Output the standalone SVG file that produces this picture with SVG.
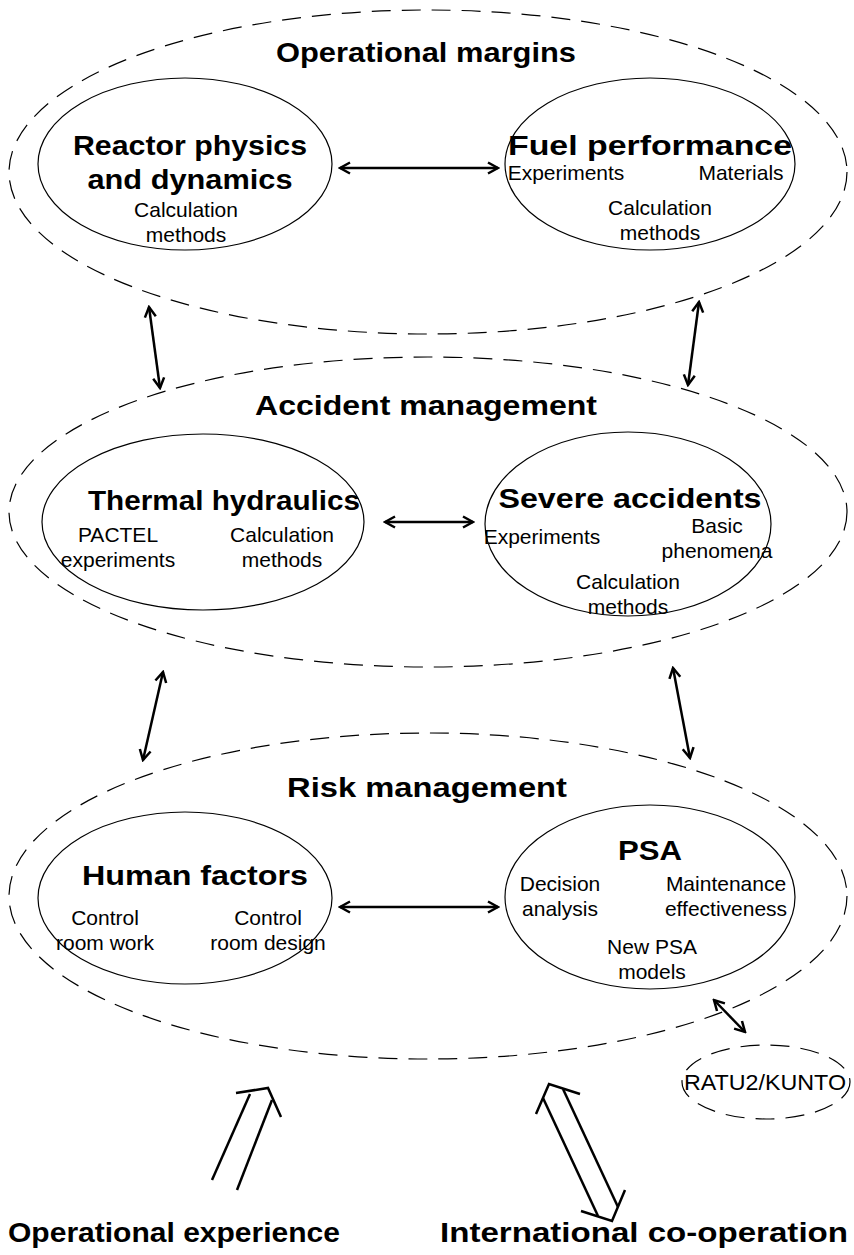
<svg xmlns="http://www.w3.org/2000/svg" width="854" height="1255" viewBox="0 0 854 1255">
<style>
.outer{fill:none;stroke:#000;stroke-width:1.2;stroke-dasharray:19 11}
.inner{fill:#fff;stroke:#000;stroke-width:1.2}
.t{font-family:"Liberation Sans",Arial,sans-serif;font-size:21px;text-anchor:middle;fill:#000}
.b{font-family:"Liberation Sans",Arial,sans-serif;font-size:28px;font-weight:bold;text-anchor:middle;fill:#000}
.c{fill:none;stroke:#000;stroke-width:2.5;marker-start:url(#ah);marker-end:url(#ah)}
.h{fill:none;stroke:#000;stroke-width:2.5;stroke-linecap:butt;stroke-linejoin:miter}
</style>
<defs>
<marker id="ah" viewBox="-12 -8 14 16" refX="0" refY="0" markerWidth="14" markerHeight="16" markerUnits="userSpaceOnUse" orient="auto-start-reverse">
<path d="M-10,-5.5 L0,0 L-10,5.5" fill="none" stroke="#000" stroke-width="2.5"/>
</marker>
</defs>
<g id="operational-margins">
<ellipse class="outer" cx="428" cy="172" rx="419" ry="162"/>
<text class="b" x="426" y="62" textLength="300" lengthAdjust="spacingAndGlyphs">Operational margins</text>
</g>
<g id="reactor-physics">
<ellipse class="inner" cx="185" cy="164" rx="147" ry="86"/>
<text class="b" x="190" y="155" textLength="234" lengthAdjust="spacingAndGlyphs">Reactor physics</text>
<text class="b" x="190" y="189" textLength="205" lengthAdjust="spacingAndGlyphs">and dynamics</text>
<text class="t" x="186" y="217">Calculation</text>
<text class="t" x="186" y="242">methods</text>
</g>
<g id="fuel-performance">
<ellipse class="inner" cx="650" cy="164" rx="145" ry="86"/>
<text class="b" x="650" y="155" textLength="284" lengthAdjust="spacingAndGlyphs">Fuel performance</text>
<text class="t" x="566" y="180">Experiments</text>
<text class="t" x="741" y="180">Materials</text>
<text class="t" x="660" y="215">Calculation</text>
<text class="t" x="660" y="240">methods</text>
</g>
<g id="accident-management">
<ellipse class="outer" cx="428" cy="512" rx="419" ry="155"/>
<text class="b" x="426" y="415" textLength="342" lengthAdjust="spacingAndGlyphs">Accident management</text>
</g>
<g id="thermal-hydraulics">
<ellipse class="inner" cx="203" cy="522" rx="161" ry="88"/>
<text class="b" x="224" y="510" textLength="272" lengthAdjust="spacingAndGlyphs">Thermal hydraulics</text>
<text class="t" x="118" y="542">PACTEL</text>
<text class="t" x="118" y="567">experiments</text>
<text class="t" x="282" y="542">Calculation</text>
<text class="t" x="282" y="567">methods</text>
</g>
<g id="severe-accidents">
<ellipse class="inner" cx="628" cy="524" rx="143" ry="92"/>
<text class="b" x="630" y="508" textLength="263" lengthAdjust="spacingAndGlyphs">Severe accidents</text>
<text class="t" x="542" y="544">Experiments</text>
<text class="t" x="717" y="533">Basic</text>
<text class="t" x="717" y="558">phenomena</text>
<text class="t" x="628" y="589">Calculation</text>
<text class="t" x="628" y="614">methods</text>
</g>
<g id="risk-management">
<ellipse class="outer" cx="428" cy="896" rx="419" ry="163"/>
<text class="b" x="427" y="797" textLength="280" lengthAdjust="spacingAndGlyphs">Risk management</text>
</g>
<g id="human-factors">
<ellipse class="inner" cx="185" cy="898" rx="147" ry="86"/>
<text class="b" x="195" y="885" textLength="226" lengthAdjust="spacingAndGlyphs">Human factors</text>
<text class="t" x="105" y="925">Control</text>
<text class="t" x="105" y="950">room work</text>
<text class="t" x="268" y="925">Control</text>
<text class="t" x="268" y="950">room design</text>
</g>
<g id="psa">
<ellipse class="inner" cx="650" cy="897" rx="145" ry="92"/>
<text class="b" x="650" y="860" textLength="64" lengthAdjust="spacingAndGlyphs">PSA</text>
<text class="t" x="560" y="891">Decision</text>
<text class="t" x="560" y="916">analysis</text>
<text class="t" x="726" y="891">Maintenance</text>
<text class="t" x="726" y="916">effectiveness</text>
<text class="t" x="652" y="954">New PSA</text>
<text class="t" x="652" y="979">models</text>
</g>
<g id="ratu2-kunto">
<ellipse class="outer" cx="766" cy="1082" rx="84" ry="37"/>
<text class="t" x="765" y="1090" style="font-size:22px" textLength="162" lengthAdjust="spacingAndGlyphs">RATU2/KUNTO</text>
</g>
<g id="operational-experience">
<text class="b" x="174" y="1242" textLength="332" lengthAdjust="spacingAndGlyphs">Operational experience</text>
</g>
<g id="international-cooperation">
<text class="b" x="644" y="1242" textLength="408" lengthAdjust="spacingAndGlyphs">International co-operation</text>
</g>
<g id="connectors">
<line class="c" x1="340" y1="168" x2="498" y2="168"/>
<line class="c" x1="149" y1="307" x2="160" y2="388"/>
<line class="c" x1="699" y1="302" x2="688" y2="385"/>
<line class="c" x1="385" y1="522" x2="473" y2="522"/>
<line class="c" x1="163" y1="672" x2="143" y2="760"/>
<line class="c" x1="673" y1="668" x2="690" y2="758"/>
<line class="c" x1="340" y1="907" x2="498" y2="907"/>
<line class="c" x1="714" y1="1000" x2="745" y2="1032"/>
<polyline class="h" points="236,1093 268,1088 281,1117"/>
<line class="h" x1="250" y1="1094" x2="212" y2="1180"/>
<line class="h" x1="272" y1="1100" x2="237" y2="1190"/>
<polyline class="h" points="580,1094 549,1084 536,1114"/>
<line class="h" x1="563" y1="1089" x2="618" y2="1207"/>
<line class="h" x1="543" y1="1098" x2="598" y2="1216"/>
<polyline class="h" points="581,1211 612,1221 625,1190"/>
</g>
</svg>
